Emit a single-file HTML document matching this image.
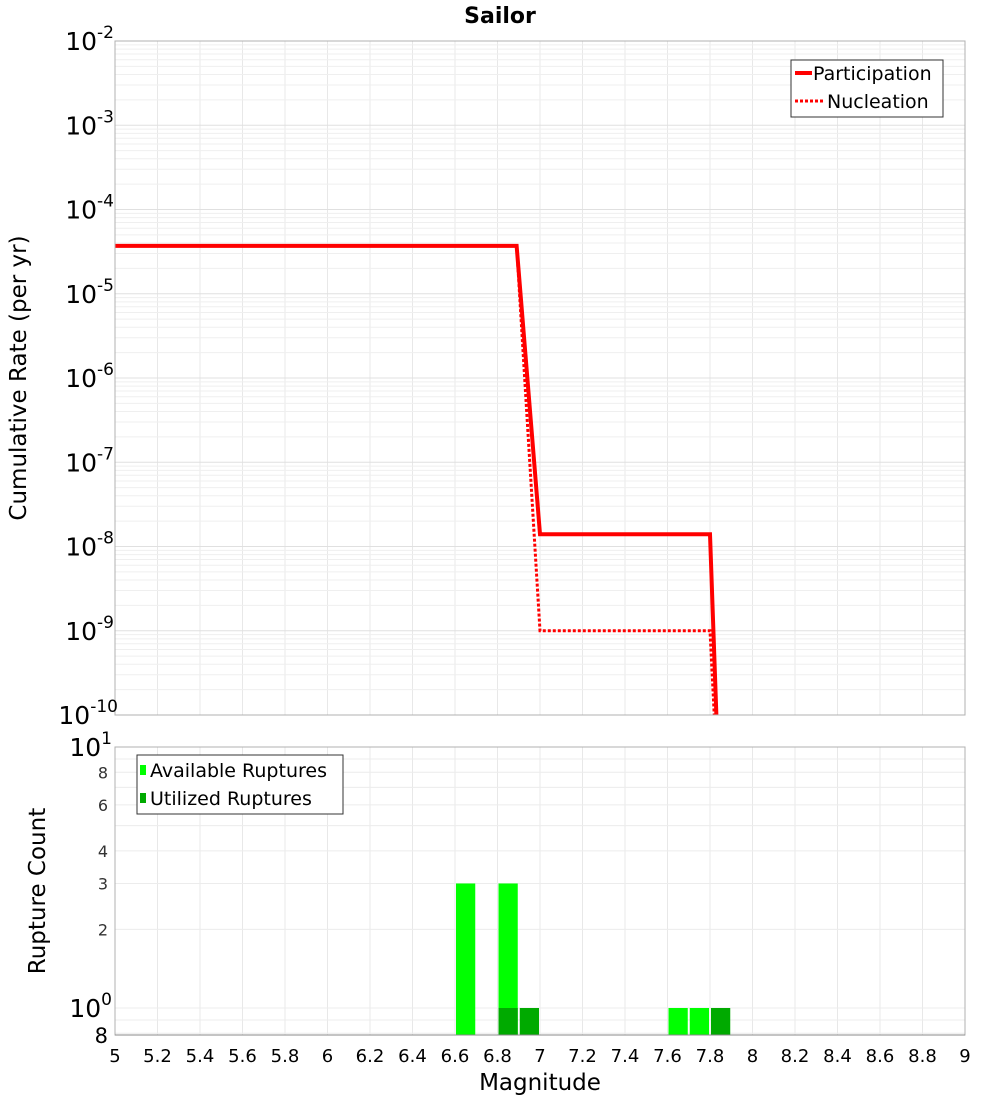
<!DOCTYPE html>
<html><head><meta charset="utf-8"><style>
body{margin:0;background:#fff;font-family:"DejaVu Sans","Liberation Sans",sans-serif;}
</style></head><body>
<svg id="chart" width="1000" height="1100" xmlns="http://www.w3.org/2000/svg" font-family="DejaVu Sans, Liberation Sans, sans-serif">
<text x="500" y="23" text-anchor="middle" font-size="22" font-weight="bold">Sailor</text>
<g id="top-grid"></g><g id="bot-grid"></g>
<g id="bars"></g><g id="lines"></g>
<rect x="115" y="41" width="850" height="674" fill="none" stroke="#b0b0b0"/>
<rect x="115" y="747" width="850" height="288" fill="none" stroke="#b0b0b0"/>
<line x1="115" y1="1035" x2="965" y2="1035" stroke="#888"/>
<g id="axes"></g>
<text transform="translate(26,378) rotate(-90)" text-anchor="middle" font-size="23">Cumulative Rate (per yr)</text>
<text transform="translate(45,891) rotate(-90)" text-anchor="middle" font-size="23">Rupture Count</text>
<text x="540" y="1090" text-anchor="middle" font-size="23">Magnitude</text>
<g>
<rect x="791" y="60" width="152" height="57" fill="#fff" stroke="#333"/>
<line x1="795" y1="73" x2="812" y2="73" stroke="#f00" stroke-width="4"/>
<text x="813" y="80" font-size="19">Participation</text>
<line x1="795" y1="101" x2="824" y2="101" stroke="#f00" stroke-width="3" stroke-dasharray="3,2"/>
<text x="827" y="108" font-size="19">Nucleation</text>
</g>
<g>
<rect x="137" y="755" width="206" height="59" fill="#fff" stroke="#333"/>
<rect x="140" y="765" width="6" height="10" fill="#00ff00"/>
<text x="150" y="777" font-size="19">Available Ruptures</text>
<rect x="140" y="793" width="6" height="10" fill="#00aa00"/>
<text x="150" y="805" font-size="19">Utilized Ruptures</text>
</g>
</svg>
<script>
const magBins=[6.6,6.8,6.9,7.6,7.7,7.8];
const availCounts=[3,3,0,1,1,0];
const utilCounts=[0,1,1,0,0,1];
const partMag=[5,6.89,7.0,7.8,7.83];
const partRate=[3.7e-5,3.7e-5,1.4e-8,1.4e-8,5e-11];
const nuclMag=[5,6.89,7.0,7.8,7.82];
const nuclRate=[3.7e-5,3.7e-5,1.0e-9,1.0e-9,5e-11];
const xTicks=[5,5.2,5.4,5.6,5.8,6,6.2,6.4,6.6,6.8,7,7.2,7.4,7.6,7.8,8,8.2,8.4,8.6,8.8,9];
const topExps=[-2,-3,-4,-5,-6,-7,-8,-9,-10];
const botTicks=[8,6,4,3,2];
const NS="http://www.w3.org/2000/svg";
const X=m=>115+(m-5)*212.5;
const YT=v=>41+(-2-Math.log10(v))*84.25;
const YB=v=>747+(1-Math.log10(v))*261;
function mk(p,t,a){const e=document.createElementNS(NS,t);for(const k in a)e.setAttribute(k,a[k]);document.getElementById(p).appendChild(e);return e;}
for(const t of xTicks){
 let l=mk('top-grid','line',{x1:X(t),x2:X(t),y1:41,y2:715,stroke:'#e8e8e8'});
 
 
 let l2=mk('bot-grid','line',{x1:X(t),x2:X(t),y1:747,y2:1035,stroke:'#e8e8e8'});
 
 
 let tx=mk('axes','text',{x:X(t),y:1062,'text-anchor':'middle','font-size':18});
 tx.textContent=String(t);
 
 
}
for(let e=-10;e<-2;e++)for(let k=1;k<10;k++){
 const v=k*Math.pow(10,e);
 let l=mk('top-grid','line',{x1:115,x2:965,y1:YT(v),y2:YT(v),stroke:k==1?'#e0e0e0':'#efefef'});
 
 
}
for(const v of [0.8,0.9,1,2,3,4,5,6,7,8,9]){
 let l=mk('bot-grid','line',{x1:115,x2:965,y1:YB(v),y2:YB(v),stroke:'#ececec'});
 
 
}
for(const e of topExps){
 const y=YT(Math.pow(10,e));
 let t=mk('axes','text',{x:e==-10?118:114,y:y+9,'text-anchor':'end','font-size':25});
 t.innerHTML='10<tspan dy="-12" font-size="17">'+e+'</tspan>';
 
 
}
{let t=mk('axes','text',{x:112,y:YB(10)+9,'text-anchor':'end','font-size':25});t.innerHTML='10<tspan dy="-12" font-size="17">1</tspan>';


let t2=mk('axes','text',{x:112,y:YB(1)+9,'text-anchor':'end','font-size':25});t2.innerHTML='10<tspan dy="-12" font-size="17">0</tspan>';


let t3=mk('axes','text',{x:108,y:1043,'text-anchor':'end','font-size':21});t3.textContent='8';

}
for(const v of botTicks){
 let t=mk('axes','text',{x:108,y:YB(v)+6,'text-anchor':'end','font-size':16,fill:'#333'});t.textContent=v;
 
 
}
magBins.forEach((m,i)=>{
 const x0=X(m)+1,w=X(m+0.1)-X(m)-2;
 if(availCounts[i]>0){let r=mk('bars','rect',{x:x0,y:YB(availCounts[i]),width:w,height:1035-YB(availCounts[i]),fill:'#00ff00'});
 
 }
 if(utilCounts[i]>0){let r=mk('bars','rect',{x:x0,y:YB(utilCounts[i]),width:w,height:1035-YB(utilCounts[i]),fill:'#00aa00'});
 
 }
});
function pts(ms,rs){return ms.map((m,i)=>X(m)+','+Math.min(YT(rs[i]),715)).join(' ');}
let pn=mk('lines','polyline',{points:pts(nuclMag,nuclRate),fill:'none',stroke:'#f00','stroke-width':3,'stroke-dasharray':'3,2'});


let pp=mk('lines','polyline',{points:pts(partMag,partRate),fill:'none',stroke:'#f00','stroke-width':4});


</script>
</body></html>
